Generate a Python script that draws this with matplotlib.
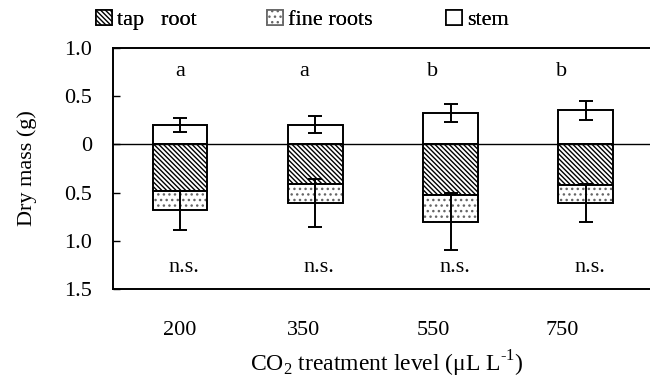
import matplotlib
matplotlib.use("Agg")
import matplotlib.pyplot as plt
from matplotlib.patches import Patch
import numpy as np

plt.rcParams['font.family'] = ['Liberation Serif', 'DejaVu Serif']
plt.rcParams['mathtext.fontset'] = 'custom'
plt.rcParams['mathtext.rm'] = 'Liberation Serif'
plt.rcParams['axes.unicode_minus'] = False
plt.rcParams['hatch.linewidth'] = 1.0

# ---- data ----
co2_levels = ['200', '350', '550', '750']
stem = [0.20, 0.205, 0.325, 0.355]
stem_err = [0.07, 0.09, 0.09, 0.10]
tap_root = [0.485, 0.41, 0.52, 0.42]
fine_roots = [0.20, 0.195, 0.28, 0.19]
root_err = [0.20, 0.25, 0.30, 0.20]
stem_letters = ['a', 'a', 'b', 'b']
root_letters = ['n.s.', 'n.s.', 'n.s.', 'n.s.']
ytick_vals = [1.0, 0.5, 0.0, -0.5, -1.0, -1.5]
ytick_labels = ['1.0', '0.5', '0', '0.5', '1.0', '1.5']

# ---- layout ----
label_pos = [0.0, 0.916, 1.87, 2.823]
ns_offset = 0.03
bar_w = 0.405
FS = 16
TAP_HATCH = '\\' * 7
FINE_HATCH = '...'
DOT_COLOR = '#666666'

fig = plt.figure(figsize=(6.5, 3.89), dpi=100)
ax = fig.add_axes([113/650, 100/389, 547/650, 241/389])

x = np.arange(len(co2_levels))
stem = np.array(stem); tap_root = np.array(tap_root); fine_roots = np.array(fine_roots)
total_root = tap_root + fine_roots

ax.bar(x, stem, bar_w, color='white', edgecolor='black', linewidth=1.4, zorder=2)
ax.bar(x, -tap_root, bar_w, color='white', edgecolor='black', hatch=TAP_HATCH, linewidth=1.4, zorder=2)
# fine roots: grey dot fill, then black outline
ax.bar(x, -fine_roots, bar_w, bottom=-tap_root, color='white', edgecolor=DOT_COLOR, hatch=FINE_HATCH, linewidth=0, zorder=2)
ax.bar(x, -fine_roots, bar_w, bottom=-tap_root, color='none', edgecolor='black', linewidth=1.4, zorder=2.1)
ax.errorbar(x, stem, yerr=stem_err, fmt='none', ecolor='black', elinewidth=1.4, capsize=4.7, capthick=1.4, zorder=3)
ax.errorbar(x, -total_root, yerr=root_err, fmt='none', ecolor='black', elinewidth=1.4, capsize=4.7, capthick=1.4, zorder=3)
ax.axhline(0, color='black', linewidth=1.0, zorder=4)

for i in range(len(co2_levels)):
    ax.text(label_pos[i], 0.71, stem_letters[i], ha='center', va='baseline', fontsize=FS)
    ax.text(x[i] + ns_offset, -1.325, root_letters[i], ha='center', va='baseline', fontsize=FS)

ax.set_xlim(-0.495, -0.495 + 547/135.3)
ax.set_ylim(-1.5, 1.0)
ax.set_yticks(ytick_vals)
ax.set_yticklabels(ytick_labels, fontsize=FS)
ax.tick_params(axis='y', direction='in', length=5, width=1.0, pad=15)
ax.set_xticks(label_pos)
ax.set_xticklabels(co2_levels, fontsize=FS)
ax.tick_params(axis='x', length=0, pad=23)
for s in ['left', 'top', 'bottom']:
    ax.spines[s].set_linewidth(1.4)
ax.spines['right'].set_visible(False)

ax.set_ylabel('Dry mass (g)', fontsize=FS, labelpad=20)
ax.set_xlabel(r'CO$_2$ treatment level ($\mathregular{\mu}$L L$^{\text{-1}}$)', fontsize=FS + 1, labelpad=6)

handles = [Patch(facecolor='white', edgecolor='black', hatch=TAP_HATCH, linewidth=1.2),
           Patch(facecolor='white', edgecolor=DOT_COLOR, hatch=FINE_HATCH, linewidth=1.2),
           Patch(facecolor='white', edgecolor='black', linewidth=1.2)]
names = ['tap   root', 'fine roots', 'stem']
leg_x = [96/650, 267/650, 446/650]
for h, n, lx in zip(handles, names, leg_x):
    lg = fig.legend([h], [n], loc='center left', bbox_to_anchor=(lx, 1 - 20/389), frameon=False,
                    fontsize=FS, handlelength=0.7, handleheight=0.7, handletextpad=0.25, borderpad=0, borderaxespad=0)
    fig.add_artist(lg)

fig.savefig('out.png', dpi=100)
